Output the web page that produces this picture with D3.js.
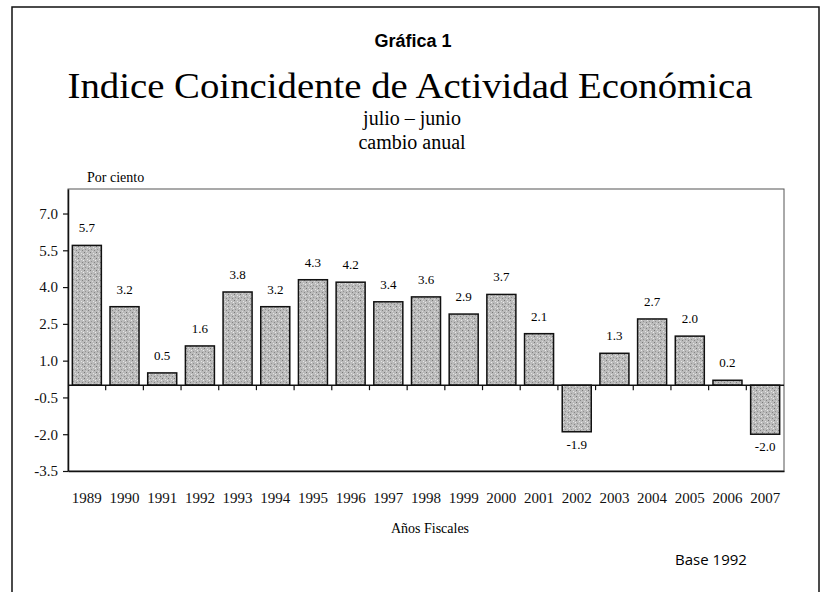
<!DOCTYPE html>
<html>
<head>
<meta charset="utf-8">
<script src="https://cdn.jsdelivr.net/npm/d3@7"></script>
<style>
  body { margin: 0; background: #fff; }
  svg { display: block; }
</style>
</head>
<body>
<svg id="chart" width="822" height="592"></svg>
<script>
const years = ['1989', '1990', '1991', '1992', '1993', '1994', '1995', '1996', '1997', '1998',
  '1999', '2000', '2001', '2002', '2003', '2004', '2005', '2006', '2007'];
const values = [5.7, 3.2, 0.5, 1.6, 3.8, 3.2, 4.3, 4.2, 3.4, 3.6, 2.9, 3.7, 2.1, -1.9, 1.3, 2.7, 2.0, 0.2, -2.0];
const yTicks = [-3.5, -2.0, -0.5, 1.0, 2.5, 4.0, 5.5, 7.0];
const yDomain = [-3.5, 8.0];

const dim = { left: 68, right: 784, top: 189, bottom: 471 };
const serif = '"Liberation Serif", "Times New Roman", serif';
const fmt = (d) => d.toFixed(1); // plain hyphen for negatives, like the original

const svg = d3.select('#chart');

/// stippled fill for bars
const pat = svg.append('defs').append('pattern')
  .attr('id', 'stipple')
  .attr('width', 6).attr('height', 6)
  .attr('patternUnits', 'userSpaceOnUse');
pat.append('rect').attr('width', 6).attr('height', 6).attr('fill', '#bbbbbb');
[[0, 0, '#777'], [3, 1, '#e4e4e4'], [1, 3, '#929292'], [4, 4, '#848484'], [5, 2, '#eaeaea'], [2, 5, '#d8d8d8']]
  .forEach(([x, y, c]) => pat.append('rect').attr('x', x).attr('y', y).attr('width', 1).attr('height', 1).attr('fill', c));

/// outer frame
svg.append('rect')
  .attr('x', 12).attr('y', 7)
  .attr('width', 807).attr('height', 600)
  .attr('fill', 'none').attr('stroke', '#111').attr('stroke-width', 1.5);

/// titles
svg.append('text').attr('x', 413).attr('y', 47).attr('text-anchor', 'middle')
  .style('font', 'bold 18px "Liberation Sans", Arial, sans-serif').text('Gráfica 1');
svg.append('text').attr('x', 410).attr('y', 98).attr('text-anchor', 'middle')
  .attr('textLength', 685).attr('lengthAdjust', 'spacingAndGlyphs')
  .style('font', `36px ${serif}`).text('Indice Coincidente de Actividad Económica');
svg.append('text').attr('x', 412).attr('y', 125).attr('text-anchor', 'middle')
  .style('font', `20px ${serif}`).text('julio – junio');
svg.append('text').attr('x', 412).attr('y', 149).attr('text-anchor', 'middle')
  .style('font', `20px ${serif}`).text('cambio anual');
svg.append('text').attr('x', 87).attr('y', 182)
  .style('font', `14px ${serif}`).text('Por ciento');

const x = d3.scaleBand()
  .domain(years)
  .range([dim.left, dim.right])
  .paddingInner(0.23)
  .paddingOuter(0.115);

const y = d3.scaleLinear().domain(yDomain).range([dim.bottom, dim.top]);

/// plot frame
svg.append('rect')
  .attr('x', dim.left).attr('y', dim.top)
  .attr('width', dim.right - dim.left).attr('height', dim.bottom - dim.top)
  .attr('fill', 'none').attr('stroke', '#555').attr('stroke-width', 1);

/// bars
svg.append('g')
  .selectAll('rect')
  .data(values)
  .enter().append('rect')
  .attr('x', (_, i) => x(years[i]))
  .attr('y', (d) => y(Math.max(0, d)))
  .attr('width', x.bandwidth())
  .attr('height', (d) => Math.abs(y(d) - y(0)))
  .attr('fill', 'url(#stipple)')
  .attr('stroke', '#111')
  .attr('stroke-width', 1.5);

/// zero line and category ticks
svg.append('line')
  .attr('x1', dim.left).attr('x2', dim.right)
  .attr('y1', y(0)).attr('y2', y(0))
  .attr('stroke', '#111').attr('stroke-width', 1.5);
svg.append('g')
  .selectAll('line')
  .data(years.slice(1))
  .enter().append('line')
  .attr('x1', (d) => x(d) - x.step() * x.paddingInner() / 2)
  .attr('x2', (d) => x(d) - x.step() * x.paddingInner() / 2)
  .attr('y1', y(0)).attr('y2', y(0) + 5)
  .attr('stroke', '#111').attr('stroke-width', 1.2);

/// value labels
svg.append('g')
  .selectAll('text')
  .data(values)
  .enter().append('text')
  .attr('x', (_, i) => x(years[i]) + x.bandwidth() / 2)
  .attr('y', (d) => (d >= 0 ? y(d) - 13 : y(d) + 17))
  .attr('text-anchor', 'middle')
  .style('font', `13px ${serif}`)
  .text(fmt);

/// y axis
const yAxis = svg.append('g')
  .attr('transform', `translate(${dim.left},0)`)
  .call(d3.axisLeft(y).tickValues(yTicks).tickFormat(fmt).tickSize(5).tickSizeOuter(0).tickPadding(5));
yAxis.select('.domain').attr('stroke', '#111').attr('stroke-width', 1.5);
yAxis.selectAll('.tick line').attr('stroke', '#111').attr('stroke-width', 1.2);
yAxis.selectAll('text').style('font', `15px ${serif}`).attr('fill', '#111');

/// x axis labels
const xAxis = svg.append('g')
  .attr('transform', `translate(0,${dim.bottom})`)
  .call(d3.axisBottom(x).tickSize(0).tickPadding(21));
xAxis.select('.domain').attr('stroke', '#111').attr('stroke-width', 1.5);
xAxis.selectAll('text').style('font', `15px ${serif}`).attr('fill', '#111');

svg.append('text').attr('x', 430).attr('y', 533).attr('text-anchor', 'middle')
  .style('font', `14px ${serif}`).text('Años Fiscales');
svg.append('text').attr('x', 711).attr('y', 565).attr('text-anchor', 'middle')
  .style('font', '15px "Open Sans", sans-serif').text('Base 1992');
</script>
</body>
</html>
